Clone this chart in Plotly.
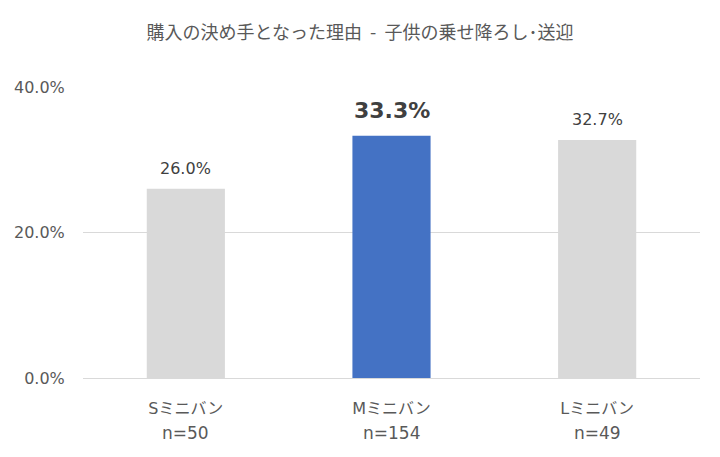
import plotly.graph_objects as go

categories = ["Sミニバン", "Mミニバン", "Lミニバン"]
sample_sizes = ["n=50", "n=154", "n=49"]
values = [0.260, 0.333, 0.327]
highlight = [False, True, False]
y_ticks = [0.0, 0.2, 0.4]

FONT = "DejaVu Sans, Noto Sans CJK JP, sans-serif"
TITLE_FONT = "Noto Sans CJK JP, DejaVu Sans, sans-serif"
colors = ["#4472C4" if h else "#D9D9D9" for h in highlight]

fig = go.Figure()
fig.add_trace(go.Bar(x=categories, y=values, marker=dict(color=colors, line=dict(width=0)),
                     hoverinfo="skip"))

for c, v, h in zip(categories, values, highlight):
    fig.add_annotation(x=c, y=v, xref="x", yref="y", text=f"{v*100:.1f}%",
                       showarrow=False, yanchor="bottom", yshift=11 if h else 9,
                       font=dict(family=FONT, size=22 if h else 16, color="#404040",
                                 weight="bold" if h else "normal"))
for c, n in zip(categories, sample_sizes):
    fig.add_annotation(x=c, y=0, xref="x", yref="paper", text=n, showarrow=False,
                       yanchor="middle", yshift=-55,
                       font=dict(family=FONT, size=17, color="#595959"))

fig.update_layout(
    width=720, height=457,
    margin=dict(l=83, r=20, t=87, b=79, autoexpand=False),
    paper_bgcolor="white", plot_bgcolor="white",
    bargap=0.62, showlegend=False,
    title=dict(text="購入の決め手となった理由\u00a0\u00a0-\u00a0\u00a0子供の乗せ降ろし･送迎", x=0.5, xref="container",
               y=1 - 33/457, yref="container", yanchor="middle", xanchor="center",
               font=dict(family=TITLE_FONT, size=18, color="#595959")),
    font=dict(family=FONT, color="#595959"),
)
fig.update_yaxes(range=[0, 0.4], tickvals=y_ticks, tickformat=".1%", showgrid=True,
                 gridcolor="#D9D9D9", gridwidth=1, zeroline=False, showline=False,
                 automargin=False,
                 ticks="outside", ticklen=14, tickcolor="rgba(0,0,0,0)",
                 tickfont=dict(family=FONT, size=16, color="#595959"))
fig.update_xaxes(showline=True, linecolor="#D9D9D9", linewidth=1, ticks="outside",
                 automargin=False,
                 ticklen=16, tickcolor="rgba(0,0,0,0)",
                 tickfont=dict(family=FONT, size=16, color="#595959"))

fig.write_html("out.html", config={"displayModeBar": False},
               post_script="document.body.style.margin='0';")
